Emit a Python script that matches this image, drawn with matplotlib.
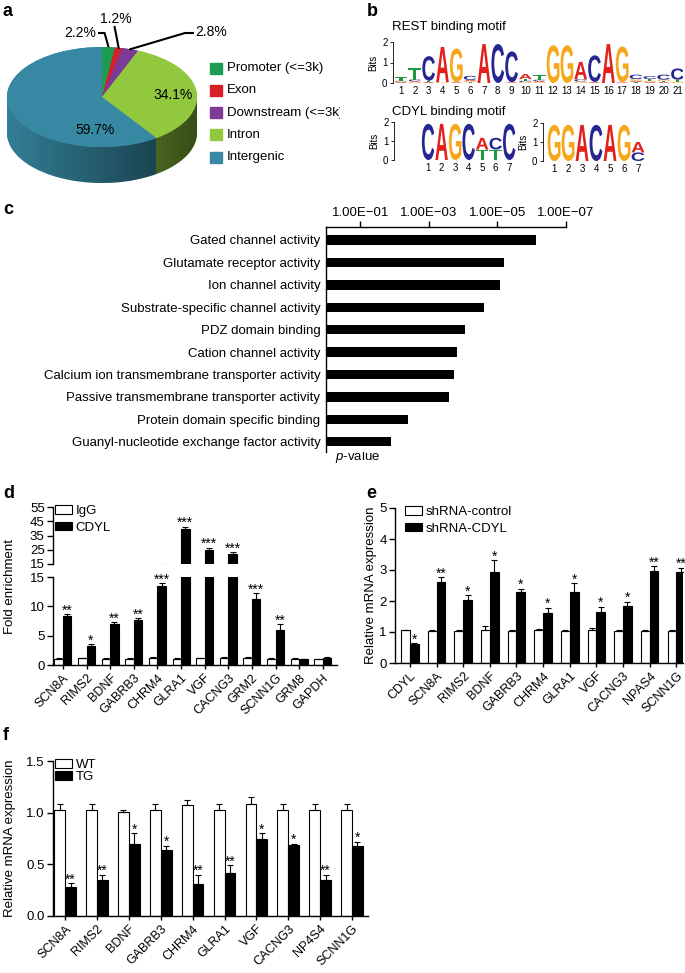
import numpy as np
import matplotlib
matplotlib.use('Agg')
import matplotlib.pyplot as plt
from matplotlib.patches import Rectangle, PathPatch, Polygon
from matplotlib.textpath import TextPath
from matplotlib.font_manager import FontProperties
from matplotlib.transforms import Affine2D
from matplotlib.ticker import NullLocator

plt.rcParams['font.family'] = ['Liberation Sans', 'DejaVu Sans']
plt.rcParams['mathtext.fontset'] = 'custom'
plt.rcParams['mathtext.rm'] = 'Liberation Sans'
plt.rcParams['mathtext.it'] = 'Liberation Sans:italic'
plt.rcParams['axes.linewidth'] = 1.0
plt.rcParams['xtick.major.width'] = 1.0
plt.rcParams['ytick.major.width'] = 1.0

W, H = 685, 973
FS = 9.5

# ---- a: genomic distribution of peaks ----
regions = ['Promoter (<=3k)', 'Exon', 'Downstream (<=3k)', 'Intron', 'Intergenic']
region_pct = [2.2, 1.2, 2.8, 34.1, 59.7]
region_colors = ['#1e9b52', '#d81e26', '#7d3a96', '#92c83e', '#3789a3']

# ---- b: motifs (bits per letter, per position) ----
rest_motif = [
    {'T': 0.15, 'A': 0.04, 'C': 0.04, 'G': 0.04},
    {'T': 0.55, 'C': 0.08, 'A': 0.05, 'G': 0.04},
    {'C': 1.2, 'T': 0.06, 'A': 0.05},
    {'A': 1.72, 'G': 0.04},
    {'G': 1.64, 'A': 0.04},
    {'C': 0.2, 'A': 0.06, 'G': 0.05, 'T': 0.04},
    {'A': 1.9},
    {'C': 1.9},
    {'C': 1.5, 'A': 0.04},
    {'A': 0.25, 'T': 0.08, 'C': 0.06, 'G': 0.05},
    {'T': 0.22, 'A': 0.06, 'C': 0.06, 'G': 0.04},
    {'G': 1.84},
    {'G': 1.84},
    {'A': 0.85, 'C': 0.1, 'G': 0.08},
    {'C': 1.3, 'A': 0.05},
    {'A': 1.9},
    {'G': 1.74, 'A': 0.04},
    {'C': 0.22, 'G': 0.08, 'A': 0.06, 'T': 0.05},
    {'C': 0.15, 'T': 0.08, 'G': 0.06, 'A': 0.05},
    {'C': 0.25, 'G': 0.06, 'A': 0.05, 'T': 0.05},
    {'C': 0.55, 'T': 0.1, 'G': 0.06},
]
cdyl_motif1 = [{'C': 1.9}, {'A': 1.9}, {'G': 1.9}, {'C': 1.9},
               {'A': 0.62, 'T': 0.55}, {'C': 0.62, 'T': 0.55}, {'C': 1.9}]
cdyl_motif2 = [{'G': 1.9}, {'G': 1.9}, {'A': 1.9}, {'C': 1.9},
               {'A': 1.9}, {'G': 1.9}, {'A': 0.55, 'C': 0.45}]
logo_colors = {'A': '#e3201b', 'C': '#262693', 'G': '#f6a81c', 'T': '#1d9a3f'}

# ---- c: GO terms ----
go_terms = ['Gated channel activity', 'Glutamate receptor activity', 'Ion channel activity',
            'Substrate-specific channel activity', 'PDZ domain binding', 'Cation channel activity',
            'Calcium ion transmembrane transporter activity', 'Passive transmembrane transporter activity',
            'Protein domain specific binding', 'Guanyl-nucleotide exchange factor activity']
go_pvalues = [7.6e-7, 6.3e-6, 8.3e-6, 2.5e-5, 8.7e-5, 1.5e-4, 1.9e-4, 2.5e-4, 4.1e-3, 1.3e-2]
go_ticks = [1e-1, 1e-3, 1e-5, 1e-7]
go_ticklabels = ['1.00E\u221201', '1.00E\u221203', '1.00E\u221205', '1.00E\u221207']

# ---- d: ChIP fold enrichment ----
chip_genes = ['SCN8A', 'RIMS2', 'BDNF', 'GABRB3', 'CHRM4', 'GLRA1', 'VGF', 'CACNG3',
              'GRM2', 'SCNN1G', 'GRM8', 'GAPDH']
igg_mean = [1.1, 1.15, 1.1, 1.05, 1.2, 1.05, 1.15, 1.2, 1.2, 1.05, 1.1, 0.95]
igg_err = [0.1, 0.08, 0.12, 0.06, 0.12, 0.08, 0.08, 0.12, 0.1, 0.08, 0.1, 0.08]
chip_mean = [8.4, 3.3, 7.0, 7.7, 13.5, 39.3, 25.0, 21.8, 11.2, 6.0, 1.0, 1.2]
chip_err = [0.3, 0.2, 0.35, 0.3, 0.45, 2.0, 1.4, 1.6, 1.0, 1.0, 0.1, 0.15]
chip_stars = ['**', '*', '**', '**', '***', '***', '***', '***', '***', '**', '', '']

# ---- e: knockdown ----
kd_genes = ['CDYL', 'SCN8A', 'RIMS2', 'BDNF', 'GABRB3', 'CHRM4', 'GLRA1', 'VGF',
            'CACNG3', 'NPAS4', 'SCNN1G']
ctrl_mean = [1.05, 1.03, 1.03, 1.08, 1.03, 1.06, 1.03, 1.08, 1.03, 1.03, 1.03]
ctrl_err = [0.03, 0.05, 0.05, 0.1, 0.05, 0.05, 0.04, 0.06, 0.05, 0.05, 0.05]
kd_mean = [0.6, 2.62, 2.03, 2.93, 2.3, 1.62, 2.3, 1.65, 1.83, 2.97, 2.93]
kd_err = [0.04, 0.16, 0.15, 0.38, 0.1, 0.17, 0.27, 0.17, 0.15, 0.15, 0.15]
kd_stars = ['*', '**', '*', '*', '*', '*', '*', '*', '*', '**', '**']

# ---- f: transgenic ----
tg_genes = ['SCN8A', 'RIMS2', 'BDNF', 'GABRB3', 'CHRM4', 'GLRA1', 'VGF', 'CACNG3',
            'NP4S4', 'SCNN1G']
wt_mean = [1.03, 1.03, 1.01, 1.03, 1.07, 1.03, 1.08, 1.03, 1.03, 1.03]
wt_err = [0.05, 0.05, 0.02, 0.05, 0.05, 0.05, 0.07, 0.05, 0.05, 0.05]
tg_mean = [0.28, 0.35, 0.70, 0.64, 0.31, 0.42, 0.75, 0.69, 0.35, 0.68]
tg_err = [0.04, 0.05, 0.1, 0.04, 0.09, 0.07, 0.05, 0.01, 0.05, 0.04]
tg_stars = ['**', '**', '*', '*', '**', '**', '*', '*', '**', '*']


def rect(x0, y0, x1, y1):
    return [x0 / W, 1 - y1 / H, (x1 - x0) / W, (y1 - y0) / H]


fig = plt.figure(figsize=(W / 100, H / 100), dpi=100)
bg = fig.add_axes([0, 0, 1, 1])
bg.set_xlim(0, W)
bg.set_ylim(H, 0)
bg.axis('off')

for lab, (lx, ly) in zip('abcdef', [(3, 12), (367, 12), (3, 210), (3, 493), (366, 493), (3, 735)]):
    bg.text(lx, ly, lab, fontsize=13, fontweight='bold', va='center', ha='left')

# ================= a =================
px0, px1, py0, py1 = 7, 197, 47, 183
depth = 0.72
ax_p = fig.add_axes(rect(px0, py0, px1, py1))
for dy in np.linspace(depth, 0.0, 40):
    wed, _ = ax_p.pie(region_pct, colors=region_colors, startangle=90, counterclock=False,
                      center=(0, -dy), radius=1, wedgeprops=dict(linewidth=0))
    for w_ in wed:
        w_.set_zorder(1)
theta = np.linspace(np.pi, 2 * np.pi, 120)
side = np.vstack([np.c_[np.cos(theta), np.sin(theta)],
                  np.c_[np.cos(theta[::-1]), np.sin(theta[::-1]) - depth]])
side_patch = Polygon(side, closed=True, fc='none', ec='none')
ax_p.add_patch(side_patch)
shade = np.zeros((1, 256, 4))
shade[..., 3] = np.linspace(0.08, 0.62, 256)
im = ax_p.imshow(shade, extent=(-1, 1, -1 - depth, 0), aspect='auto', zorder=2, interpolation='bilinear')
im.set_clip_path(side_patch)
wed, _ = ax_p.pie(region_pct, colors=region_colors, startangle=90, counterclock=False,
                  radius=1, wedgeprops=dict(linewidth=0))
for w_ in wed:
    w_.set_zorder(3)
ax_p.set_aspect('auto')
ax_p.set_xlim(-1, 1)
ax_p.set_ylim(-1 - depth, 1)
ax_p.axis('off')

# overlay for labels / legend of panel a (drawn above the pie)
ax_a = fig.add_axes(rect(0, 0, 340, 200))
ax_a.set_xlim(0, 340)
ax_a.set_ylim(200, 0)
ax_a.axis('off')
ax_a.set_zorder(5)


def pie_px(xd, yd):
    return px0 + (xd + 1) / 2 * (px1 - px0), py0 + (1 - yd) / (2 + depth) * (py1 - py0)


cum = np.cumsum([0] + region_pct)
mids = [90 - (cum[i] + region_pct[i] / 2) * 3.6 for i in range(len(region_pct))]
rims = [pie_px(np.cos(np.radians(m)), np.sin(np.radians(m))) for m in mids]

# leader labels for the three small slices
r0 = rims[0]
ax_a.plot([98, r0[0] - 4, r0[0]], [33, 33, r0[1]], color='black', lw=1.5, solid_capstyle='butt')
ax_a.text(96, 33, f'{region_pct[0]}%', fontsize=10, ha='right', va='center')
r1 = rims[1]
ax_a.plot([r1[0] - 4, r1[0]], [27, r1[1]], color='black', lw=1.5)
ax_a.text(r1[0] - 3, 19, f'{region_pct[1]}%', fontsize=10, ha='center', va='center')
r2 = rims[2]
ax_a.plot([r2[0], 185, 193], [r2[1], 33, 33], color='black', lw=1.5)
ax_a.text(195, 32, f'{region_pct[2]}%', fontsize=10, ha='left', va='center')
ax_a.text(173, 95, f'{region_pct[3]}%', fontsize=10, ha='center', va='center')
ax_a.text(95, 130, f'{region_pct[4]}%', fontsize=10, ha='center', va='center')

for i, (name, col) in enumerate(zip(regions, region_colors)):
    yy = 68 + i * 22.3
    ax_a.add_patch(Rectangle((210, yy - 5.5), 12, 11, color=col))
    ax_a.text(227, yy, name, fontsize=FS, va='center', ha='left', clip_on=True)

# ================= b =================
logo_font = FontProperties(family='Liberation Sans', weight='bold')


def draw_logo(ax, motif):
    for i, col in enumerate(motif, start=1):
        y0 = 0
        for letter, h in sorted(col.items(), key=lambda kv: kv[1]):
            tp = TextPath((0, 0), letter, size=1, prop=logo_font)
            bb = tp.get_extents()
            tr = (Affine2D().translate(-bb.x0, -bb.y0)
                  .scale(0.92 / bb.width, h / bb.height).translate(i - 0.46, y0))
            ax.add_patch(PathPatch(tr.transform_path(tp), fc=logo_colors[letter], ec='none'))
            y0 += h
    ax.set_ylim(0, 2)
    ax.set_yticks([0, 1, 2])
    ax.set_xticks(range(1, len(motif) + 1))
    ax.spines[['top', 'right', 'bottom']].set_visible(False)
    ax.spines['left'].set_linewidth(0.6)
    ax.tick_params(axis='y', labelsize=7, length=2.5, width=0.6, pad=1.5)
    ax.tick_params(axis='x', labelsize=7, length=0, pad=2)
    ax.set_ylabel('Bits', fontsize=7, labelpad=3)


bg.text(392, 27, 'REST binding motif', fontsize=FS, va='center')
ax_r = fig.add_axes(rect(393, 42, 683, 83))
draw_logo(ax_r, rest_motif)
ax_r.set_xlim(0.42, 21.4)

bg.text(392, 112, 'CDYL binding motif', fontsize=FS, va='center')
ax_c1 = fig.add_axes(rect(394, 122, 516, 160))
draw_logo(ax_c1, cdyl_motif1)
ax_c1.set_xlim(-1.52, 7.5)
ax_c2 = fig.add_axes(rect(543, 123, 645, 161))
draw_logo(ax_c2, cdyl_motif2)
ax_c2.set_xlim(0.21, 7.5)

# ================= c =================
ax_go = fig.add_axes(rect(326, 227, 566, 452))
yy = np.arange(len(go_terms))
ax_go.barh(yy, np.array(go_pvalues) - 1, left=1, height=0.42, color='black')
ax_go.set_xscale('log')
ax_go.set_xlim(1, 1e-7)
ax_go.set_ylim(len(go_terms) - 0.54, -0.58)
ax_go.xaxis.set_ticks_position('top')
ax_go.set_xticks(go_ticks)
ax_go.set_xticklabels(go_ticklabels)
ax_go.xaxis.set_minor_locator(NullLocator())
ax_go.set_yticks(yy)
ax_go.set_yticklabels(go_terms)
ax_go.spines[['bottom', 'right']].set_visible(False)
ax_go.tick_params(axis='x', labelsize=FS, length=4, pad=2)
ax_go.tick_params(axis='y', labelsize=FS, length=0, pad=4)
bg.text(358, 457, r'$p$-value', fontsize=FS, ha='center', va='center')


# ================= bar helpers =================
def bar_pair(ax, x, m1, e1, m2, e2, bw, l1, l2):
    z = np.zeros(len(x))
    b1 = ax.bar(x - bw / 2, m1, bw, color='white', edgecolor='black', linewidth=0.8, label=l1)
    b2 = ax.bar(x + bw / 2, m2, bw, color='black', edgecolor='black', linewidth=0.8, label=l2)
    ax.errorbar(x - bw / 2, m1, yerr=[z, e1], fmt='none', ecolor='black',
                elinewidth=0.8, capsize=2.2, capthick=0.8)
    ax.errorbar(x + bw / 2, m2, yerr=[z, e2], fmt='none', ecolor='black',
                elinewidth=0.8, capsize=2.2, capthick=0.8)
    return b1, b2


def put_stars(ax, xs, tops, marks):
    for xi, t, s in zip(xs, tops, marks):
        if s:
            ax.annotate(s, (xi, t), xytext=(0, -2.5), textcoords='offset points',
                        ha='center', va='bottom', fontsize=10, annotation_clip=False)


def style(ax):
    ax.spines[['top', 'right']].set_visible(False)
    ax.tick_params(direction='out', length=4, labelsize=FS, pad=2)


def legend(ax, handles, labels, x, y, spacing):
    ax.legend(handles, labels, loc='upper left', bbox_to_anchor=(x / W, 1 - y / H),
              bbox_transform=fig.transFigure, frameon=False, fontsize=FS,
              handlelength=1.3, handleheight=0.65, handletextpad=0.25,
              labelspacing=spacing, borderpad=0, borderaxespad=0)


# ================= d =================
xd = np.arange(len(chip_genes))
bw = 0.36
ax_dl = fig.add_axes(rect(53, 577, 337, 665))
ax_dh = fig.add_axes(rect(53, 507, 337, 564))
for ax in (ax_dl, ax_dh):
    hd = bar_pair(ax, xd, igg_mean, igg_err, chip_mean, chip_err, bw, 'IgG', 'CDYL')
    ax.set_xlim(-0.42, 11.6)
    style(ax)
ax_dl.set_ylim(0, 15)
ax_dl.set_yticks([0, 5, 10, 15])
ax_dh.set_ylim(15, 55)
ax_dh.set_yticks([15, 25, 35, 45, 55])
ax_dh.spines['bottom'].set_visible(False)
ax_dh.set_xticks([])
ax_dl.set_xticks(xd)
ax_dl.set_xticklabels(chip_genes, rotation=45, ha='right', rotation_mode='anchor', fontsize=9)
ax_dl.tick_params(axis='x', length=3)
tops = np.array(chip_mean) + np.array(chip_err)
for xi, t, s in zip(xd + bw / 2, tops, chip_stars):
    put_stars(ax_dh if t > 15 else ax_dl, [xi], [t], [s])
legend(ax_dh, hd, ['IgG', 'CDYL'], 55, 505, 0.35)
bg.text(10, 587, 'Fold enrichment', rotation=90, fontsize=FS, ha='center', va='center')

# ================= e =================
xe = np.arange(len(kd_genes))
bwe = 0.33
ax_e = fig.add_axes(rect(395, 508, 683, 663))
he = bar_pair(ax_e, xe, ctrl_mean, ctrl_err, kd_mean, kd_err, bwe, 'shRNA-control', 'shRNA-CDYL')
style(ax_e)
ax_e.set_xlim(-0.56, 10.25)
ax_e.set_ylim(0, 5)
ax_e.set_yticks(range(6))
ax_e.set_xticks(xe)
ax_e.set_xticklabels(kd_genes, rotation=45, ha='right', rotation_mode='anchor', fontsize=9)
ax_e.tick_params(axis='x', length=3)
put_stars(ax_e, xe + bwe / 2, np.array(kd_mean) + np.array(kd_err), kd_stars)
legend(ax_e, he, ['shRNA-control', 'shRNA-CDYL'], 405, 506, 0.35)
bg.text(371, 585, 'Relative mRNA expression', rotation=90, fontsize=FS, ha='center', va='center')

# ================= f =================
xf = np.arange(len(tg_genes))
bwf = 0.34
ax_f = fig.add_axes(rect(53, 761, 368, 916))
hf = bar_pair(ax_f, xf, wt_mean, wt_err, tg_mean, tg_err, bwf, 'WT', 'TG')
style(ax_f)
ax_f.set_xlim(-0.38, 9.5)
ax_f.set_ylim(0, 1.5)
ax_f.set_yticks([0, 0.5, 1.0, 1.5])
ax_f.set_yticklabels(['0.0', '0.5', '1.0', '1.5'])
ax_f.set_xticks(xf)
ax_f.set_xticklabels(tg_genes, rotation=45, ha='right', rotation_mode='anchor', fontsize=9)
ax_f.tick_params(axis='x', length=3)
put_stars(ax_f, xf + bwf / 2, np.array(tg_mean) + np.array(tg_err), tg_stars)
legend(ax_f, hf, ['WT', 'TG'], 55, 759, 0.0)
bg.text(10, 838, 'Relative mRNA expression', rotation=90, fontsize=FS, ha='center', va='center')

fig.savefig('out.png', dpi=100)
